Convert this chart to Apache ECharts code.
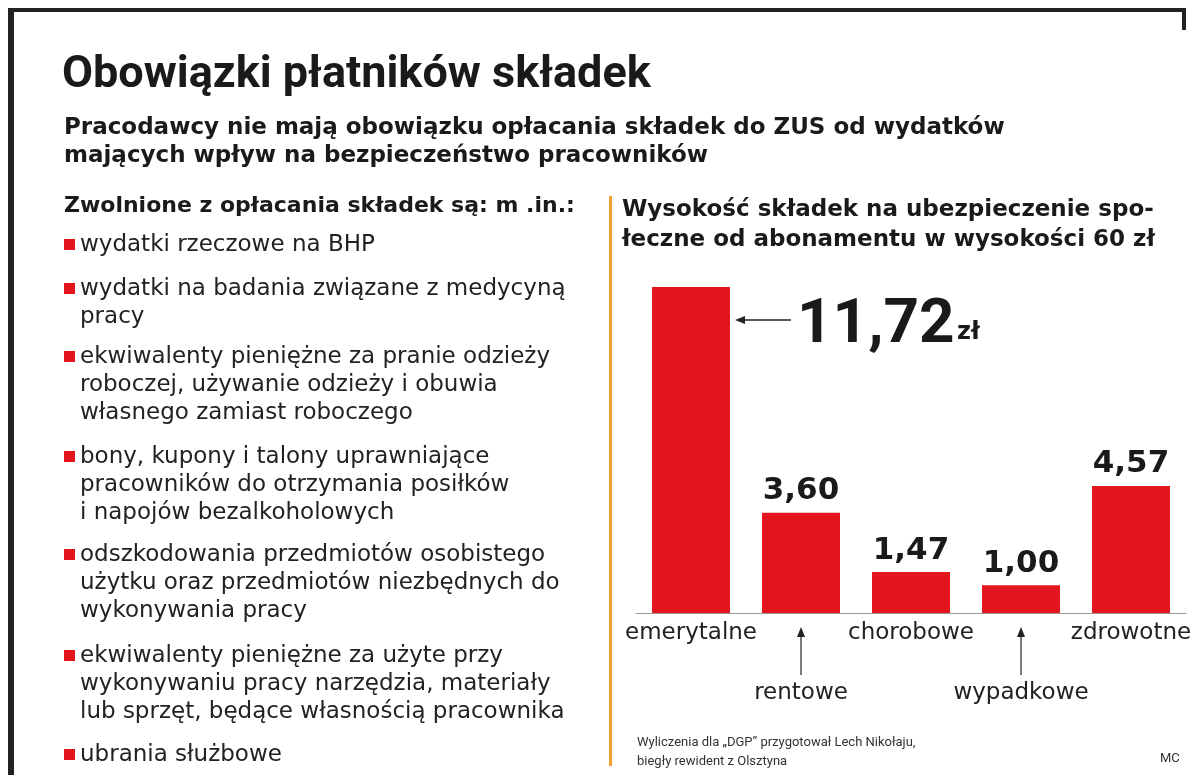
<!DOCTYPE html>
<html><head><meta charset="utf-8">
<script src="https://cdn.jsdelivr.net/npm/echarts@6/dist/echarts.min.js"></script>
<style>html,body{margin:0;background:#fff}#c{width:1200px;height:775px}</style>
</head><body><div id="c"></div>
<script>
var categories = ['emerytalne', 'rentowe', 'chorobowe', 'wypadkowe', 'zdrowotne'];
var values = [11.72, 3.60, 1.47, 1.00, 4.57];
var valueLabels = ['11,72', '3,60', '1,47', '1,00', '4,57'];
var listItems = [
  ['wydatki rzeczowe na BHP'],
  ['wydatki na badania związane z medycyną', 'pracy'],
  ['ekwiwalenty pieniężne za pranie odzieży', 'roboczej, używanie odzieży i obuwia', 'własnego zamiast roboczego'],
  ['bony, kupony i talony uprawniające', 'pracowników do otrzymania posiłków', 'i napojów bezalkoholowych'],
  ['odszkodowania przedmiotów osobistego', 'użytku oraz przedmiotów niezbędnych do', 'wykonywania pracy'],
  ['ekwiwalenty pieniężne za użyte przy', 'wykonywaniu pracy narzędzia, materiały', 'lub sprzęt, będące własnością pracownika'],
  ['ubrania służbowe']
];
var F = 'Roboto, "DejaVu Sans", sans-serif';
var W = '"DejaVu Sans", sans-serif';
var RED = '#e3161d';

var graphics = [
  {type:'rect', shape:{x:8,y:8,width:6,height:767}, style:{fill:'#222'}},
  {type:'rect', shape:{x:8,y:8,width:1178,height:4}, style:{fill:'#222'}},
  {type:'rect', shape:{x:1182,y:8,width:4,height:22}, style:{fill:'#222'}},
  {type:'rect', shape:{x:609,y:196,width:3,height:570}, style:{fill:'#f0a030'}},
  {type:'text', left:62, top:53, style:{text:'Obowiązki płatników składek', font:'bold 45px '+F, fill:'#1a1a1a'}},
  {type:'text', left:64, top:114, style:{text:'Pracodawcy nie mają obowiązku opłacania składek do ZUS od wydatków\nmających wpływ na bezpieczeństwo pracowników', font:'bold 23px '+W, fill:'#1a1a1a', lineHeight:28}},
  {type:'text', left:64, top:195, style:{text:'Zwolnione z opłacania składek są: m .in.:', font:'bold 22px '+W, fill:'#1a1a1a'}},
  {type:'text', left:622, top:195, style:{text:'Wysokość składek na ubezpieczenie spo-\nłeczne od abonamentu w wysokości 60 zł', font:'bold 23px '+W, fill:'#1a1a1a', lineHeight:30}},
  {type:'text', left:637, top:733, style:{text:'Wyliczenia dla \u201eDGP\u201d przygotował Lech Nikołaju,\nbiegły rewident z Olsztyna', font:'13px '+F, fill:'#333', lineHeight:19}},
  {type:'text', left:1160, top:752, style:{text:'MC', font:'13px '+F, fill:'#333'}}
];
var starts = [231, 275, 343, 443, 541, 642, 741];
listItems.forEach(function (lines, i) {
  graphics.push({type:'rect', shape:{x:64,y:starts[i]+8,width:11,height:11}, style:{fill:RED}});
  graphics.push({type:'text', left:80, top:starts[i], style:{text:lines.join('\n'), font:'23px '+W, fill:'#222', lineHeight:28}});
});

var chart = echarts.init(document.getElementById('c'));
chart.setOption({
  animation:false,
  grid:{left:636, right:14, top:287, bottom:162},
  xAxis:{type:'category', data:categories,
    axisLine:{lineStyle:{color:'#999', width:1}}, axisTick:{show:false},
    axisLabel:{interval:0, color:'#222', fontSize:23, fontFamily:W, margin:10,
      formatter:function (v, i) { return i % 2 ? '\n\n\n' + v : v; }, lineHeight:20}},
  yAxis:{type:'value', min:0, max:11.72, show:false},
  series:[{type:'bar', data:values, barWidth:78, itemStyle:{color:RED},
    label:{show:true, position:'top', distance:6, color:'#1a1a1a', fontSize:31, fontWeight:'bold', fontFamily:W,
      formatter:function (p) { return p.dataIndex === 0 ? '' : valueLabels[p.dataIndex]; }}
  }],
  graphic:graphics
});
// big first label with arrow, placed through the chart's own scale
var p0 = chart.convertToPixel({xAxisIndex:0, yAxisIndex:0}, [0, values[0]]);
var extra = [
  {type:'line', shape:{x1:p0[0]+52,y1:p0[1]+33,x2:p0[0]+100,y2:p0[1]+33}, style:{stroke:'#222', lineWidth:1.5}},
  {type:'polygon', shape:{points:[[p0[0]+44,p0[1]+33],[p0[0]+54,p0[1]+29],[p0[0]+54,p0[1]+37]]}, style:{fill:'#222'}},
  {type:'text', left:p0[0]+106, top:p0[1]+8, style:{text:valueLabels[0], font:'bold 62px '+F, fill:'#1a1a1a'}},
  {type:'text', left:p0[0]+266, top:p0[1]+34, style:{text:'zł', font:'bold 24px '+W, fill:'#1a1a1a'}}
];
[1, 3].forEach(function (i) {
  var p = chart.convertToPixel({xAxisIndex:0, yAxisIndex:0}, [i, 0]);
  extra.push({type:'line', shape:{x1:p[0],y1:p[1]+20,x2:p[0],y2:p[1]+62}, style:{stroke:'#222', lineWidth:1.2}});
  extra.push({type:'polygon', shape:{points:[[p[0],p[1]+14],[p[0]-4,p[1]+24],[p[0]+4,p[1]+24]]}, style:{fill:'#222'}});
});
chart.setOption({graphic:graphics.concat(extra)});
</script></body></html>
